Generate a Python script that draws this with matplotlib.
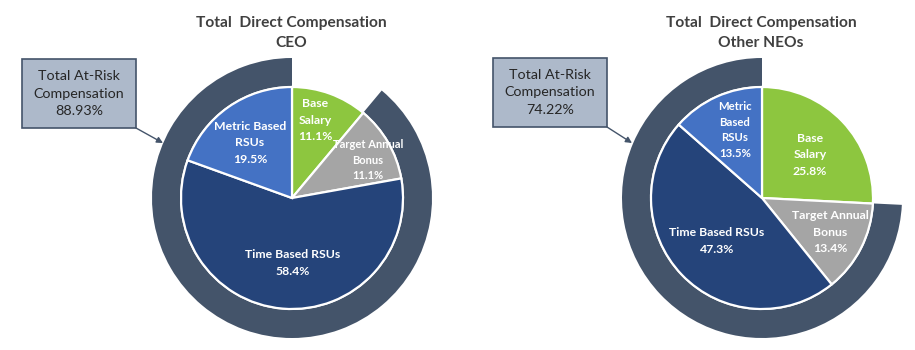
import matplotlib
matplotlib.use("Agg")
import matplotlib.pyplot as plt
from matplotlib.patches import Wedge, Rectangle

# ---------------- data ----------------
categories = ["Base Salary", "Target Annual Bonus", "Time Based RSUs", "Metric Based RSUs"]
ceo_values = [11.1, 11.1, 58.4, 19.5]
neo_values = [25.8, 13.4, 47.3, 13.5]
at_risk = [88.93, 74.22]
titles = ["Total  Direct Compensation\nCEO", "Total  Direct Compensation\nOther NEOs"]
ceo_labels = ["Base\nSalary\n11.1%", "Target Annual\nBonus\n11.1%", "Time Based RSUs\n58.4%", "Metric Based\nRSUs\n19.5%"]
neo_labels = ["Base\nSalary\n25.8%", "Target Annual\nBonus\n13.4%", "Time Based RSUs\n47.3%", "Metric\nBased\nRSUs\n13.5%"]

colors = ["#8DC63F", "#A5A5A5", "#25447A", "#4472C4"]
ring_color = "#44546A"
FONT = ["Lato", "DejaVu Sans"]

W, H = 915, 350
fig = plt.figure(figsize=(W / 100, H / 100), dpi=100)
ax = fig.add_axes([0, 0, 1, 1])
ax.set_xlim(0, W)
ax.set_ylim(0, H)
ax.set_aspect("equal")
ax.axis("off")

def py(y):  # pixel-from-top -> data y
    return H - y

charts = [
    dict(values=ceo_values, labels=ceo_labels, center=(292, 198), risk=at_risk[0], title=titles[0],
         title_xy=(291, 33), box=(22, 59, 114, 69), arrow_end=(163, 143),
         label_off=[(23, -78), (76, -38), (1, 65), (-42, -55)],
         label_size=[8.8, 8.0, 8.8, 8.8], label_ls=[1.6, 1.5, 1.6, 1.6]),
    dict(values=neo_values, labels=neo_labels, center=(762, 198), risk=at_risk[1], title=titles[1],
         title_xy=(761, 33), box=(493, 58, 114, 69), arrow_end=(632, 143),
         label_off=[(48, -43), (68, 34), (-45, 43), (-27, -68)],
         label_size=[8.8, 8.8, 8.8, 8.2], label_ls=[1.6, 1.6, 1.6, 1.5]),
]

R = 111
R_OUT = 140

for c in charts:
    cx, cy = c["center"]
    ax.pie(c["values"], colors=colors, startangle=90, counterclock=False,
           center=(cx, py(cy)), radius=R,
           wedgeprops=dict(edgecolor="white", linewidth=1.6), frame=True)
    # at-risk ring
    ring = Wedge((cx, py(cy)), R_OUT, 90, 90 + 360 * c["risk"] / 100.0,
                 width=R_OUT - R - 1, facecolor=ring_color, edgecolor="none", zorder=0)
    ax.add_patch(ring)
    # labels
    for lab, (dx, dy), fs, ls in zip(c["labels"], c["label_off"], c["label_size"], c["label_ls"]):
        ax.text(cx + dx, py(cy + dy), lab, color="white", fontsize=fs, ha="center", va="center",
                family=FONT, fontweight="bold", linespacing=ls)
    # title
    tx, ty = c["title_xy"]
    ax.text(tx, py(ty), c["title"], color="#404040", fontsize=11.2, fontweight="bold",
            ha="center", va="center", family=FONT, linespacing=1.5)
    # callout box
    bx, by, bw, bh = c["box"]
    ax.add_patch(Rectangle((bx, py(by + bh)), bw, bh, facecolor="#ADB9CA",
                           edgecolor="#44546A", linewidth=1.2, zorder=3))
    ax.text(bx + bw / 2, py(by + bh / 2), "Total At-Risk\nCompensation\n%.2f%%" % c["risk"],
            color="#262626", fontsize=10.3, ha="center", va="center", family=FONT,
            linespacing=1.55, zorder=4)
    ex, ey = c["arrow_end"]
    ax.annotate("", xy=(ex, py(ey)), xytext=(bx + bw, py(by + bh)),
                arrowprops=dict(arrowstyle="-|>", color="#44546A", lw=1.0,
                                mutation_scale=9, shrinkA=0, shrinkB=0), zorder=4)

ax.set_xlim(0, W)
ax.set_ylim(0, H)
ax.axis("off")
fig.savefig("out.png", dpi=100)
